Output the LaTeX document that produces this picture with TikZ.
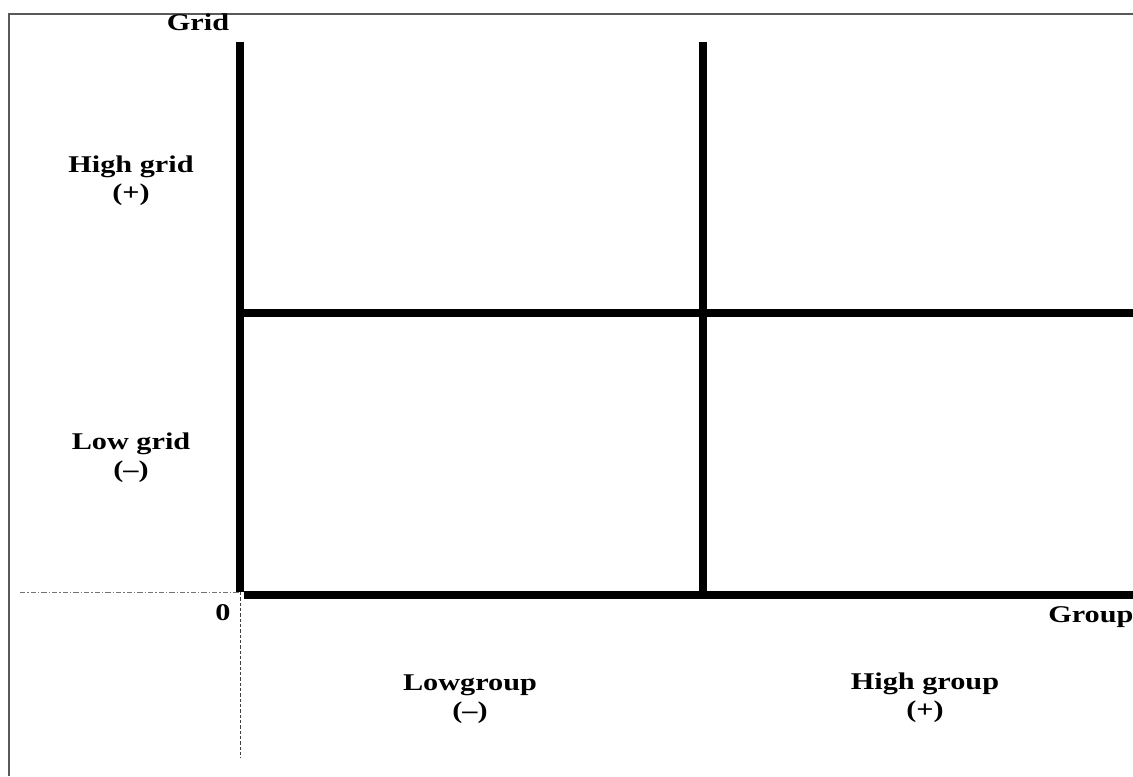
\documentclass[tikz,border=0pt]{standalone}
\usepackage{fontspec}
\setmainfont{Liberation Serif}[FakeStretch=1.26]
\tikzset{
  frameln/.style = {gray!70!black, line width=1.1pt},
  gridln/.style  = {black, line width=6pt},
  guideh/.style  = {gray!90!black, line width=0.7pt, dash pattern=on 4pt off 1.5pt on 1pt off 1.5pt},
  guidev/.style  = {black!75, line width=0.7pt, dash pattern=on 2.5pt off 1.5pt},
  lbl/.style     = {font=\fontsize{18}{20.6}\selectfont\bfseries, inner sep=0pt, align=center}
}

\begin{document}
\begin{tikzpicture}[x=0.75pt,y=-0.75pt]
  \useasboundingbox (0,0) rectangle (1133,776);
  % outer frame (top and left only)
  \coordinate (ftl) at (9,14);
  \coordinate (fbl) at (9,776);
  \coordinate (ftr) at (1133,14);
  \draw[frameln] (fbl) -- (ftl) -- (ftr);
  % grid lines
  \coordinate (o)    at (240,592);
  \coordinate (ltop) at (240,42);
  \coordinate (mtop) at (703,42);
  \coordinate (mbot) at (703,592);
  \coordinate (hl)   at (236,312.5);
  \coordinate (hr)   at (1133,312.5);
  \coordinate (bl)   at (244,595);
  \coordinate (br)   at (1133,595);
  \draw[gridln] (ltop) -- (o);
  \draw[gridln] (mtop) -- (mbot);
  \draw[gridln] (hl) -- (hr);
  \draw[gridln] (bl) -- (br);
  % guides through the origin
  \coordinate (gl) at (20,592);
  \coordinate (gb) at (240,758);
  \draw[guideh] (gl) -- (o);
  \draw[guidev] (o) -- (gb);
  % labels
  \node[lbl,anchor=base]  (grid)      at (198,30)  {Grid};
  \node[lbl,anchor=north] (highgrid)  at (131,156) {High grid\\(+)};
  \node[lbl,anchor=north] (lowgrid)   at (131,433) {Low grid\\(--)};
  \node[lbl,anchor=base]  (zero)      at (223,620) {0};
  \node[lbl,anchor=base west] (group) at (1048,622) {Group};
  \node[lbl,anchor=north] (lowgroup)  at (470,675) {Lowgroup\\(--)};
  \node[lbl,anchor=north] (highgroup) at (925,673) {High group\\(+)};
\end{tikzpicture}
\end{document}
